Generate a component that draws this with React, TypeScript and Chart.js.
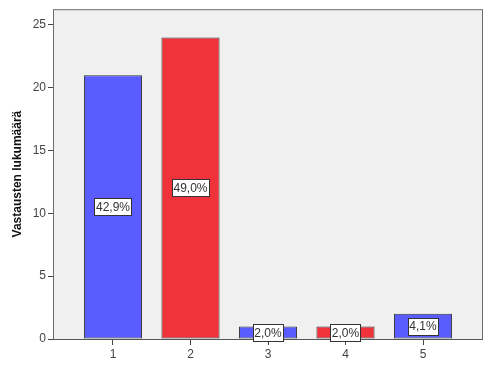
import React, { useEffect, useRef } from "react";
import { Chart, registerables } from "chart.js";

Chart.register(...registerables);

const CATEGORIES = [1, 2, 3, 4, 5];
const COUNTS = [21, 24, 1, 1, 2];
const PERCENT_LABELS = ["42,9%", "49,0%", "2,0%", "2,0%", "4,1%"];
const BAR_COLORS = ["#5A5CFF", "#F0323A", "#5A5CFF", "#F0323A", "#5A5CFF"];
const Y_TICKS = [0, 5, 10, 15, 20, 25];
const Y_TITLE = "Vastausten lukumäärä";

const FONT = "'Liberation Sans', Arial, sans-serif";

const plotFrame = {
  id: "plotFrame",
  beforeDatasetsDraw(chart: any) {
    const { ctx, chartArea: a } = chart;
    ctx.save();
    ctx.fillStyle = "#F0F0F0";
    ctx.fillRect(a.left, a.top, a.right - a.left, a.bottom - a.top);
    ctx.restore();
  },
  afterDatasetsDraw(chart: any) {
    const { ctx, chartArea: a } = chart;
    ctx.save();
    ctx.strokeStyle = "#6E6E6E";
    ctx.lineWidth = 1;
    ctx.strokeRect(a.left + 0.5, a.top + 0.5, a.right - a.left - 1, a.bottom - a.top);
    ctx.beginPath();
    ctx.strokeStyle = "#555";
    ctx.moveTo(a.left, Math.round(a.bottom) + 0.5);
    ctx.lineTo(a.right, Math.round(a.bottom) + 0.5);
    ctx.stroke();
    const meta = chart.getDatasetMeta(0);
    ctx.font = "12px " + FONT;
    ctx.textAlign = "center";
    ctx.textBaseline = "middle";
    meta.data.forEach((el: any, i: number) => {
      const p = el.getProps(["x", "y", "base"], true);
      const cy = (p.y + p.base) / 2;
      const txt = PERCENT_LABELS[i];
      const w = ctx.measureText(txt).width + 3;
      const h = 17;
      const x0 = Math.round(p.x - w / 2) + 0.5;
      const y0 = Math.round(cy - h / 2) + 0.5;
      ctx.fillStyle = "#FFFFFF";
      ctx.fillRect(x0, y0, Math.round(w), h);
      ctx.strokeStyle = "#333";
      ctx.lineWidth = 1;
      ctx.strokeRect(x0, y0, Math.round(w), h);
      ctx.fillStyle = "#333";
      ctx.fillText(txt, p.x, cy + 1);
    });
    ctx.restore();
  },
};

export default function App() {
  const ref = useRef<HTMLCanvasElement>(null);
  useEffect(() => {
    document.body.style.margin = "0";
    const chart = new Chart(ref.current as HTMLCanvasElement, {
      type: "bar",
      data: {
        datasets: [
          {
            data: CATEGORIES.map((c, i) => ({ x: c, y: COUNTS[i] })),
            backgroundColor: BAR_COLORS,
            borderColor: "#333333",
            borderWidth: 1,
            borderSkipped: false,
            barPercentage: 0.75,
            categoryPercentage: 1,
          },
        ],
      },
      options: {
        responsive: false,
        animation: false,
        layout: { padding: { top: 4, right: 17, left: 0, bottom: 0 } },
        plugins: { legend: { display: false }, tooltip: { enabled: false } },
        scales: {
          x: {
            type: "linear",
            offset: false,
            min: 0.226,
            max: 5.774,
            afterBuildTicks: (s: any) => {
              s.ticks = CATEGORIES.map((v) => ({ value: v }));
            },
            afterFit: (s: any) => {
              s.height = 26;
            },
            grid: { offset: false, drawOnChartArea: false, tickLength: 6, color: "#444", lineWidth: 1 },
            border: { display: false },
            ticks: {
              color: "#444",
              font: { family: FONT, size: 12 },
              padding: 2,
              maxRotation: 0,
              callback: (v: any) => String(v),
            },
          },
          y: {
            type: "linear",
            min: 0,
            max: 26.25,
            afterBuildTicks: (s: any) => {
              s.ticks = Y_TICKS.map((v) => ({ value: v }));
            },
            afterFit: (s: any) => {
              s.width = 53;
            },
            grid: { drawOnChartArea: false, tickLength: 5, color: "#444", lineWidth: 1 },
            border: { display: false },
            ticks: {
              color: "#444",
              font: { family: FONT, size: 12 },
              padding: 2,
            },
            title: {
              display: true,
              text: Y_TITLE,
              color: "#111",
              font: { family: FONT, size: 12, weight: "bold" },
              padding: { top: 10, bottom: 0 },
            },
          },
        },
      },
      plugins: [plotFrame],
    } as any);
    return () => chart.destroy();
  }, []);
  return <canvas ref={ref} width={500} height={365} style={{ display: "block" }} />;
}
